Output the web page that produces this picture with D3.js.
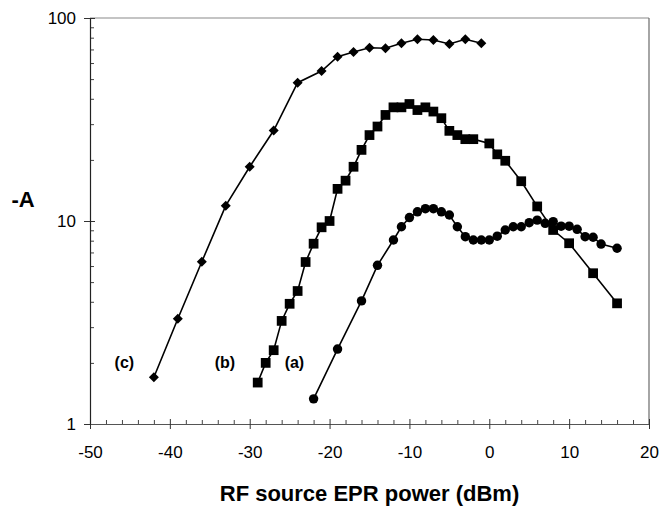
<!DOCTYPE html>
<html>
<head>
<meta charset="utf-8">
<script src="https://cdn.jsdelivr.net/npm/d3@7"></script>
<style>
  body { margin: 0; background: #fff; }
  text { font-family: "Liberation Sans", Arial, sans-serif; fill: #000; }
</style>
</head>
<body>
<div id="chart"></div>
<script>
//Series (c): diamonds
const xC = [-42, -39, -36, -33, -30, -27, -24, -21, -19, -17, -15, -13, -11, -9, -7, -5, -3, -1];
const yC = [1.7, 3.3, 6.3, 11.9, 18.5, 27.9, 48, 54.8, 64.5, 68, 71.4, 70.9, 75.1, 78.6, 77.9, 74.5, 78.6, 75.1];

//Series (b): squares
const xB = [-29, -28, -27, -26, -25, -24, -23, -22, -21, -20, -19, -18, -17, -16, -15, -14, -13, -12, -11, -10,
            -9, -8, -7, -6, -5, -4, -3, -2, 0, 1, 2, 4, 6, 8, 10, 13, 16];
const yB = [1.6, 2.0, 2.31, 3.22, 3.91, 4.52, 6.28, 7.73, 9.31, 10.0, 14.4, 15.8, 18.5, 22.4, 26.5, 29.2, 33.3, 36.3, 36.3, 37.7,
            35.2, 36.3, 34.6, 32.1, 27.8, 26.5, 25.3, 25.3, 24.1, 21.3, 19.8, 15.7, 11.8, 9.03, 7.77, 5.53, 3.93];

//Series (a): circles
const xA = [-22, -19, -16, -14, -12, -11, -10, -9, -8, -7, -6, -5, -4, -3, -2, -1, 0, 1, 2, 3, 4, 5, 6, 7, 8, 9, 10, 11, 12, 13, 14, 16];
const yA = [1.33, 2.34, 4.04, 6.05, 8.06, 9.37, 10.4, 11.1, 11.5, 11.5, 11.1, 10.7, 9.37, 8.37, 8.06, 8.06, 8.06, 8.42, 9.03, 9.37,
            9.37, 9.81, 10.1, 9.74, 9.93, 9.43, 9.43, 9.1, 8.37, 8.32, 7.7, 7.34];

//Axis ticks
const xTicks = [-50, -40, -30, -20, -10, 0, 10, 20];
const yTicks = [1, 10, 100];

//Series labels
const seriesLabels = ["(c)", "(b)", "(a)"];
const labelX = [-45.7, -33.1, -24.4];
const labelY = [2.0, 2.0, 2.0];

//////////////////////////////////////////////////

const W = 660, H = 513;
const margin = {left: 90, top: 18, right: 11, bottom: 89};
const plotW = W - margin.left - margin.right;
const plotH = H - margin.top - margin.bottom;

const svg = d3.select("#chart").append("svg")
  .attr("width", W)
  .attr("height", H);

const g = svg.append("g")
  .attr("transform", "translate(" + margin.left + "," + margin.top + ")");

const x = d3.scaleLinear().domain([-50, 20]).range([0, plotW]);
const y = d3.scaleLog().domain([1, 100]).range([plotH, 0]);

//plain hyphen minus, as in the original
const fmt = function(d) { return String(d); };

//Frame: top and right edges
g.append("line").attr("x1", 0).attr("x2", plotW).attr("y1", 0).attr("y2", 0)
  .attr("stroke", "#8a8a8a").attr("stroke-width", 1.2);
g.append("line").attr("x1", plotW).attr("x2", plotW).attr("y1", 0).attr("y2", plotH)
  .attr("stroke", "#6a6a6a").attr("stroke-width", 1.2);

//Minor ticks (inside)
const yMinor = [];
[1, 10].forEach(function(d) { for (var k = 2; k <= 9; k++) yMinor.push(d * k); });
g.append("g")
  .call(d3.axisRight(y).tickValues(yMinor).tickSize(4).tickFormat(""))
  .call(function(a) { a.select(".domain").remove(); a.selectAll("line").attr("stroke", "#444"); });

const xMinor = d3.range(-48, 20, 2).filter(function(d) { return d % 10 != 0; });
g.append("g")
  .attr("transform", "translate(0," + plotH + ")")
  .call(d3.axisTop(x).tickValues(xMinor).tickSize(4).tickFormat(""))
  .call(function(a) { a.select(".domain").remove(); a.selectAll("line").attr("stroke", "#444"); });

//Major ticks crossing the axes
g.append("g")
  .attr("transform", "translate(0," + plotH + ")")
  .call(d3.axisTop(x).tickValues(xTicks).tickSize(5).tickFormat(""))
  .call(function(a) { a.select(".domain").remove(); a.selectAll("line").attr("stroke", "#333"); });
g.append("g")
  .call(d3.axisRight(y).tickValues(yTicks).tickSize(5).tickFormat(""))
  .call(function(a) { a.select(".domain").remove(); a.selectAll("line").attr("stroke", "#333"); });

//Bottom axis
const xAxis = g.append("g")
  .attr("transform", "translate(0," + plotH + ")")
  .call(d3.axisBottom(x).tickValues(xTicks).tickSize(5).tickSizeOuter(0).tickPadding(17)
        .tickFormat(fmt));
xAxis.select(".domain").attr("stroke", "#555").attr("stroke-width", 1.2);
xAxis.selectAll("line").attr("stroke", "#333");
xAxis.selectAll("text").attr("font-size", 17).style("font-family", "Liberation Sans, Arial, sans-serif");

//Left axis
const yAxis = g.append("g")
  .call(d3.axisLeft(y).tickValues(yTicks).tickSize(6).tickSizeOuter(0).tickPadding(8)
        .tickFormat(fmt));
yAxis.select(".domain").attr("stroke", "#222").attr("stroke-width", 1.2);
yAxis.selectAll("line").attr("stroke", "#333");
yAxis.selectAll("text").attr("font-size", 17).style("font-family", "Liberation Sans, Arial, sans-serif");

//Axis titles
svg.append("text")
  .attr("x", 23).attr("y", 207)
  .attr("text-anchor", "middle")
  .attr("font-size", 22).attr("font-weight", "bold")
  .text("-A");

svg.append("text")
  .attr("x", margin.left + plotW / 2).attr("y", 501)
  .attr("text-anchor", "middle")
  .attr("font-size", 22).attr("font-weight", "bold")
  .text("RF source EPR power (dBm)");

//Series lines and markers
const line = d3.line().x(function(d) { return x(d[0]); }).y(function(d) { return y(d[1]); });

function drawSeries(xs, ys, shape, size, rot) {
  var pts = xs.map(function(v, i) { return [v, ys[i]]; });
  g.append("path")
    .datum(pts)
    .attr("d", line)
    .attr("fill", "none")
    .attr("stroke", "#000")
    .attr("stroke-width", 1.6);
  g.selectAll(null)
    .data(pts)
    .enter().append("path")
    .attr("transform", function(d) { return "translate(" + x(d[0]) + "," + y(d[1]) + ") rotate(" + rot + ")"; })
    .attr("d", d3.symbol().type(shape).size(size))
    .attr("fill", "#000");
}

drawSeries(xC, yC, d3.symbolSquare, 50, 45);
drawSeries(xB, yB, d3.symbolSquare, 95, 0);
drawSeries(xA, yA, d3.symbolCircle, 70, 0);

//Series labels
g.selectAll(null)
  .data(seriesLabels)
  .enter().append("text")
  .attr("x", function(d, i) { return x(labelX[i]); })
  .attr("y", function(d, i) { return y(labelY[i]); })
  .attr("dy", "0.35em")
  .attr("text-anchor", "middle")
  .attr("font-size", 16).attr("font-weight", "bold")
  .text(function(d) { return d; });
</script>
</body>
</html>
